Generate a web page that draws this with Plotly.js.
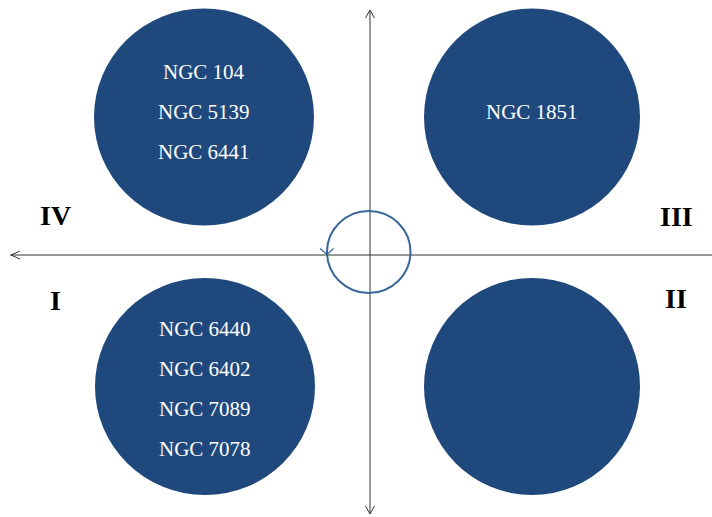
<!DOCTYPE html>
<html>
<head>
<meta charset="utf-8">
<script src="https://cdn.plot.ly/plotly-3.0.1.min.js"></script>
<style>html,body{margin:0;padding:0;background:#fff;}#chart{width:712px;height:517px;}</style>
</head>
<body>
<div id="chart"></div>
<script>
// Quadrant labels and cluster names per quadrant
const quadrantLabels = ['I', 'II', 'III', 'IV'];
const clustersI = ['NGC 6440', 'NGC 6402', 'NGC 7089', 'NGC 7078'];
const clustersII = [];
const clustersIII = ['NGC 1851'];
const clustersIV = ['NGC 104', 'NGC 5139', 'NGC 6441'];

// layout geometry (page-like coordinate frame)
const W = 712, H = 517;
const cx0 = 370, cy0 = 255;
const circles = [
  {q: 'IV', cx: 204, cy: 117, rx: 110, ry: 108.5, names: clustersIV},
  {q: 'III', cx: 532, cy: 117, rx: 108, ry: 108.5, names: clustersIII},
  {q: 'I', cx: 205, cy: 386.5, rx: 110, ry: 108.5, names: clustersI},
  {q: 'II', cx: 532, cy: 386.5, rx: 108, ry: 108.5, names: clustersII}
];
const labelPos = {
  'IV': [55.5, 215], 'III': [676, 216], 'I': [55, 300], 'II': [675.5, 298]
};
const textBlockCenter = {'IV': 112, 'III': 112, 'I': 389, 'II': 389};

const fill = '#1f497d';
const axisColor = '#333333';
const ringColor = '#3a6698';

const shapes = [];
const annotations = [];

circles.forEach(c => {
  shapes.push({type: 'circle', xref: 'x', yref: 'y',
    x0: c.cx - c.rx, x1: c.cx + c.rx, y0: c.cy - c.ry, y1: c.cy + c.ry,
    fillcolor: fill, line: {width: 0}, layer: 'below'});
  const n = c.names.length;
  const step = 40;
  c.names.forEach((name, i) => {
    annotations.push({x: c.cx, y: textBlockCenter[c.q] + (i - (n - 1) / 2) * step,
      xref: 'x', yref: 'y', text: name, showarrow: false,
      font: {family: 'Liberation Serif, Times New Roman, serif', size: 21, color: '#ffffff'},
      xanchor: 'center', yanchor: 'middle'});
  });
});

// axes lines
shapes.push({type: 'line', xref: 'x', yref: 'y', x0: 10, x1: W, y0: cy0, y1: cy0, line: {color: axisColor, width: 1}});
shapes.push({type: 'line', xref: 'x', yref: 'y', x0: cx0, x1: cx0, y0: 10, y1: 514, line: {color: axisColor, width: 1}});
// arrowheads
shapes.push({type: 'path', xref: 'x', yref: 'y', path: `M 20 ${cy0-4} L 11 ${cy0} L 20 ${cy0+4}`, line: {color: axisColor, width: 1}});
shapes.push({type: 'path', xref: 'x', yref: 'y', path: `M ${cx0-4.5} 18 L ${cx0} 10 L ${cx0+4.5} 18`, line: {color: axisColor, width: 1}});
shapes.push({type: 'path', xref: 'x', yref: 'y', path: `M ${cx0-4.5} 506 L ${cx0} 514 L ${cx0+4.5} 506`, line: {color: axisColor, width: 1}});

// small ring at origin
shapes.push({type: 'circle', xref: 'x', yref: 'y', x0: 327, x1: 410.5, y0: 211, y1: 293,
  line: {color: ringColor, width: 2}, fillcolor: 'rgba(0,0,0,0)'});
shapes.push({type: 'path', xref: 'x', yref: 'y', path: 'M 320 248.5 L 327 254.5 L 333.5 248.5',
  line: {color: ringColor, width: 1.2}});

// quadrant labels
quadrantLabels.forEach(q => {
  const p = labelPos[q];
  annotations.push({x: p[0], y: p[1], xref: 'x', yref: 'y', text: '<b>' + q + '</b>', showarrow: false,
    font: {family: 'Liberation Serif, Times New Roman, serif', size: 28, color: '#000000'},
    xanchor: 'center', yanchor: 'middle'});
});

const layout = {
  width: W, height: H,
  margin: {l: 0, r: 0, t: 0, b: 0},
  paper_bgcolor: '#ffffff', plot_bgcolor: '#ffffff',
  xaxis: {range: [0, W], visible: false, fixedrange: true},
  yaxis: {range: [H, 0], visible: false, fixedrange: true},
  shapes: shapes, annotations: annotations, showlegend: false
};

Plotly.newPlot('chart', [{x: [], y: [], type: 'scatter', mode: 'markers', hoverinfo: 'skip'}], layout, {staticPlot: true, displayModeBar: false});
</script>
</body>
</html>
